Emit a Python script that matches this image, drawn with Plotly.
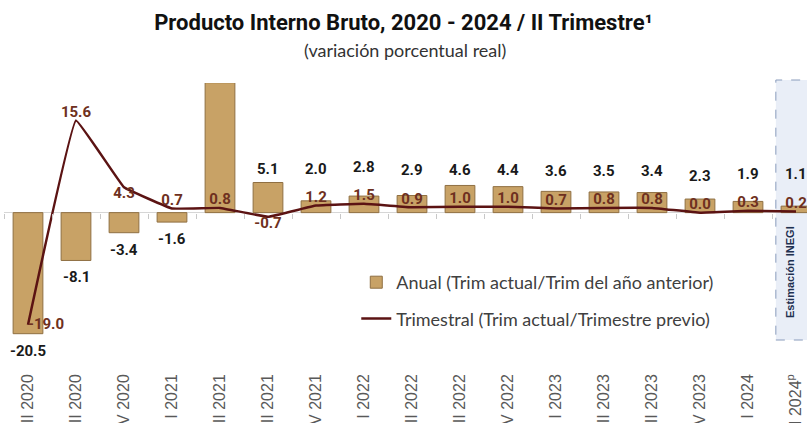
import plotly.graph_objects as go

# ---- data ----
quarters = ["II 2020", "III 2020", "IV 2020", "I 2021", "II 2021", "III 2021", "IV 2021",
            "I 2022", "II 2022", "III 2022", "IV 2022", "I 2023", "II 2023", "III 2023",
            "IV 2023", "I 2024", "II 2024"]
tick_labels = quarters[:-1] + ["II 2024<sup>p</sup>"]
anual = [-20.5, -8.1, -3.4, -1.6, 22.0, 5.1, 2.0, 2.8, 2.9, 4.6, 4.4, 3.6, 3.5, 3.4, 2.3, 1.9, 1.1]
trimestral = [-19.0, 15.6, 4.3, 0.7, 0.8, -0.7, 1.2, 1.5, 0.9, 1.0, 1.0, 0.7, 0.8, 0.8, 0.0, 0.3, 0.2]

# ---- style / layout ----
W, H = 807, 423
ML, MR, MT, MB = 4, 0, 83, 71
plot_w = W - ML - MR
plot_h = H - MT - MB
cat_px = 48.0
x_range = [-0.5, -0.5 + plot_w / cat_px]
y_range = [-23.6, 21.95]
ppu = plot_h / (y_range[1] - y_range[0])


def py(px):
    """page pixel row -> paper y"""
    return (MT + plot_h - px) / plot_h


bar_color = "#C8A266"
bar_edge = "#8F6F42"
line_color = "#5B1313"
q_text_color = "#6E3020"
label_font = "Roboto"

q_label_pos = ["middle right", "top center", "bottom center", "top center", "top center",
               "bottom center"] + ["top center"] * 11

fig = go.Figure()

fig.add_trace(go.Bar(
    x=quarters, y=anual, name="Anual (Trim actual/Trim del año anterior)",
    marker=dict(color=bar_color, line=dict(color=bar_edge, width=1)),
    width=0.62, legendgroup="a", hoverinfo="x+y",
))

fig.add_trace(go.Scatter(
    x=quarters, y=trimestral, name="Trimestral (Trim actual/Trimestre previo)",
    mode="lines+text", line=dict(color=line_color, width=2.5, shape="spline", smoothing=0.2),
    text=[f"{v:.1f}" for v in trimestral], textposition=q_label_pos,
    textfont=dict(family=label_font, size=15, color=q_text_color, weight="bold"),
    legendgroup="b",
))

# helper trace for the tick marks along the zero line
fig.add_trace(go.Scatter(
    x=quarters, y=anual, xaxis="x2", mode="markers", marker=dict(opacity=0),
    showlegend=False, hoverinfo="skip",
))

# annual value labels
annotations = []
q_label_units = 23 / ppu
for cat, a, q in zip(quarters, anual, trimestral):
    if a > y_range[1]:
        continue
    font = dict(family=label_font, size=15, color="#1A1A1A", weight="bold")
    if a < 0:
        annotations.append(dict(x=cat, y=a, yanchor="top", yshift=-6, text=f"{a:.1f}",
                                showarrow=False, font=font))
    else:
        y = max(a, q + q_label_units) if q >= 0 else a
        annotations.append(dict(x=cat, y=y, yanchor="bottom", yshift=3, text=f"{a:.1f}",
                                showarrow=False, font=font))

annotations.append(dict(
    xref="paper", yref="paper", x=0.4994, y=py(50),
    text="(variación porcentual real)", showarrow=False, yanchor="middle",
    font=dict(family="Lato", size=18, color="#333333"),
))
annotations.append(dict(
    x=quarters[-1], xshift=-6, yref="paper", y=py(272), xanchor="center", yanchor="middle",
    text="Estimación INEGI", textangle=-90, showarrow=False,
    font=dict(family="Liberation Sans", size=11, color="#1F3050", weight="bold"),
))

fig.update_layout(
    width=W, height=H,
    margin=dict(l=ML, r=MR, t=MT, b=MB, autoexpand=False),
    paper_bgcolor="white", plot_bgcolor="white",
    title=dict(text="Producto Interno Bruto, 2020 - 2024 / II Trimestre¹",
               x=0.5, xref="container", xanchor="center",
               y=1 - 22 / H, yref="container", yanchor="middle",
               font=dict(family=label_font, size=22, color="#111111", weight="bold")),
    xaxis=dict(type="category", categoryorder="array", categoryarray=quarters,
               tickvals=quarters, ticktext=tick_labels, range=x_range, automargin=False,
               tickangle=-90, showgrid=False, showline=False, ticks="",
               ticklabelstandoff=18,
               tickfont=dict(family="Liberation Sans", size=16, color="#595959")),
    xaxis2=dict(type="category", categoryorder="array", categoryarray=quarters,
                overlaying="x", anchor="free", range=x_range, automargin=False,
                position=(0 - y_range[0]) / (y_range[1] - y_range[0]),
                tickson="boundaries", ticks="outside", ticklen=5, tickcolor="#C8C8C8",
                showticklabels=False, showgrid=False, showline=False),
    yaxis=dict(range=y_range, showgrid=False, showticklabels=False, ticks="", automargin=False,
               zeroline=True, zerolinecolor="#D6D6D6", zerolinewidth=1),
    legend=dict(x=0.4387, y=py(264), xanchor="left", yanchor="top",
                bgcolor="rgba(0,0,0,0)", traceorder="grouped", tracegroupgap=10,
                font=dict(family="Lato", size=18, color="#404040"), itemwidth=30),
    annotations=annotations,
    shapes=[dict(type="rect", xref="x", yref="paper",
                 x0=len(quarters) - 1 - 0.42, x1=len(quarters) + 1,
                 y0=py(340), y1=py(80),
                 fillcolor="#E9EEF7", line=dict(color="#8A9CBC", width=1, dash="dash"),
                 layer="below")],
    showlegend=True,
    bargap=0.38,
)

fig.write_html("out.html", config={"displayModeBar": False},
               post_script="document.body.style.margin='0';")
